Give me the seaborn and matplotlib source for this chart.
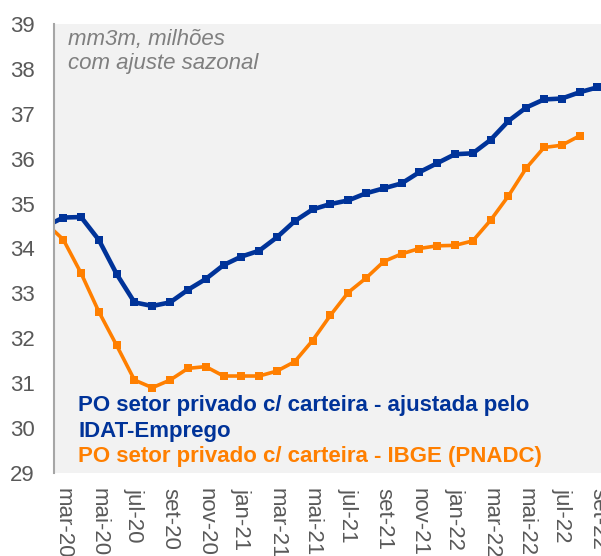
import matplotlib
matplotlib.use("Agg")
import matplotlib.pyplot as plt
import seaborn as sns
import pandas as pd
import numpy as np

months = ["fev-20", "mar-20", "abr-20", "mai-20", "jun-20", "jul-20", "ago-20", "set-20",
          "out-20", "nov-20", "dez-20", "jan-21", "fev-21", "mar-21", "abr-21", "mai-21",
          "jun-21", "jul-21", "ago-21", "set-21", "out-21", "nov-21", "dez-21", "jan-22",
          "fev-22", "mar-22", "abr-22", "mai-22", "jun-22", "jul-22", "ago-22", "set-22"]

idat = [34.49, 34.69, 34.70, 34.19, 33.43, 32.80, 32.72, 32.80,
        33.08, 33.32, 33.63, 33.82, 33.95, 34.25, 34.61, 34.87,
        34.99, 35.07, 35.23, 35.34, 35.45, 35.70, 35.90, 36.10,
        36.12, 36.42, 36.84, 37.14, 37.32, 37.34, 37.48, 37.59]

pnadc = [34.57, 34.20, 33.45, 32.59, 31.84, 31.07, 30.90, 31.07,
         31.33, 31.37, 31.16, 31.16, 31.16, 31.27, 31.48, 31.95,
         32.51, 33.02, 33.34, 33.71, 33.88, 34.00, 34.06, 34.07,
         34.17, 34.63, 35.17, 35.79, 36.25, 36.30, 36.51, None]

tick_labels = ["mar-20", "mai-20", "jul-20", "set-20", "nov-20", "jan-21", "mar-21", "mai-21",
               "jul-21", "set-21", "nov-21", "jan-22", "mar-22", "mai-22", "jul-22", "set-22"]

label_idat_1 = "PO setor privado c/ carteira - ajustada pelo"
label_idat_2 = "IDAT-Emprego"
label_pnadc = "PO setor privado c/ carteira - IBGE (PNADC)"
note_1 = "mm3m, milhões"
note_2 = "com ajuste sazonal"

BLUE = "#003399"
ORANGE = "#FF7F00"
GRAY_TXT = "#595959"
FS = 16

sns.set_style("white")
plt.rcParams["font.family"] = ["Liberation Sans", "DejaVu Sans"]

df = pd.DataFrame({"idx": np.arange(len(months)), "month": months,
                   "idat": idat, "pnadc": pd.array(pnadc, dtype="Float64").astype(float)})

fig = plt.figure(figsize=(6.01, 5.56), dpi=100)
ax = fig.add_axes([54 / 601, (556 - 473) / 556, (601 - 54) / 601, (473 - 24) / 556])
ax.set_facecolor("#F2F2F2")

sns.lineplot(data=df, x="idx", y="pnadc", ax=ax, color=ORANGE, linewidth=2.6,
             marker="s", markersize=6.4, markeredgewidth=0, clip_on=True)
sns.lineplot(data=df, x="idx", y="idat", ax=ax, color=BLUE, linewidth=3.3,
             marker="s", markersize=6.4, markeredgewidth=0, clip_on=True)

ax.set_xlim(0.48, 31.2)
ax.set_ylim(29, 39)
ax.set_yticks(range(29, 40))
tick_pos = [months.index(t) for t in tick_labels]
ax.set_xticks(tick_pos)
ax.set_xticklabels(tick_labels, rotation=270, va="top", ha="center")
ax.tick_params(axis="y", length=0, pad=14, labelsize=FS, labelcolor=GRAY_TXT)
ax.tick_params(axis="x", length=0, pad=10.5, labelsize=FS, labelcolor=GRAY_TXT)
ax.set_xlabel("")
ax.set_ylabel("")
for s in ["top", "right", "bottom"]:
    ax.spines[s].set_visible(False)
ax.spines["left"].set_color("#A6A6A6")
ax.spines["left"].set_linewidth(1.5)
ax.grid(False)

ax.text(0.0256, 0.954, note_1, transform=ax.transAxes, fontsize=FS, style="italic",
        color="#7F7F7F", va="baseline", ha="left")
ax.text(0.0256, 0.900, note_2, transform=ax.transAxes, fontsize=FS, style="italic",
        color="#7F7F7F", va="baseline", ha="left")

ax.text(0.0439, 0.1388, label_idat_1, transform=ax.transAxes, fontsize=FS, fontweight="bold",
        color=BLUE, va="baseline", ha="left")
ax.text(0.0439, 0.0808, label_idat_2, transform=ax.transAxes, fontsize=FS, fontweight="bold",
        color=BLUE, va="baseline", ha="left")
ax.text(0.0439, 0.0245, label_pnadc, transform=ax.transAxes, fontsize=FS, fontweight="bold",
        color=ORANGE, va="baseline", ha="left")

fig.savefig("out.png", dpi=100)
